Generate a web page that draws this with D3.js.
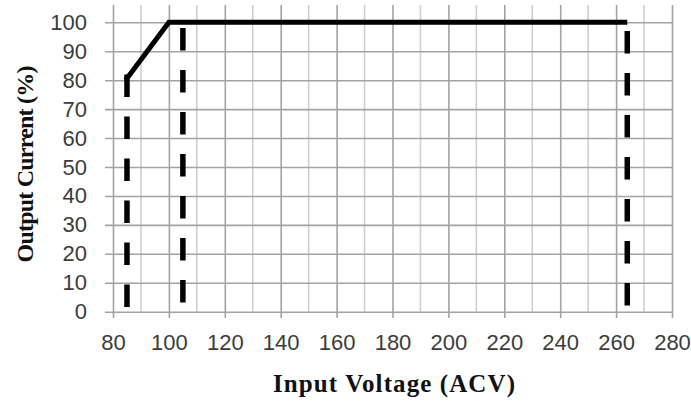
<!DOCTYPE html>
<html>
<head>
<meta charset="utf-8">
<script src="https://cdn.jsdelivr.net/npm/d3@7"></script>
<style>
  html, body { margin: 0; padding: 0; background: #fff; }
  svg { display: block; }
</style>
</head>
<body>
<svg id="chart" width="691" height="405"></svg>
<script>
// ---- data ----
const xTicks = [80, 100, 120, 140, 160, 180, 200, 220, 240, 260, 280];
const xMinorTicks = [90, 110, 130, 150, 170, 190, 210, 230, 250, 270];
const yTicks = [0, 10, 20, 30, 40, 50, 60, 70, 80, 90, 100];
const curveVoltage = [84.5, 100, 264];
const curveCurrent = [80, 100, 100];
const limitVoltage = [85, 105, 264];
const limitTop = [82, 100, 100];
const xTitle = "Input Voltage (ACV)";
const yTitle = "Output Current (%)";

// ---- layout ----
const svg = d3.select("#chart");
const x = d3.scaleLinear().domain([80, 280]).range([113, 672]);
const y = d3.scaleLinear().domain([0, 100]).range([311.7, 22.3]);
const gridTop = 5, majorBottom = 318, gridLeft = 105;

// minor vertical grid
svg.append("g").selectAll("line").data(xMinorTicks).join("line")
  .attr("x1", d => x(d)).attr("x2", d => x(d))
  .attr("y1", gridTop).attr("y2", y(0))
  .attr("stroke", "#cfcfcf").attr("stroke-width", 1.6);

// major vertical grid + labels via axis
const xAxis = d3.axisBottom(x).tickValues(xTicks)
  .tickSize(-(majorBottom - gridTop)).tickPadding(16).tickFormat(d3.format("d"));
const gx = svg.append("g").attr("transform", `translate(0,${majorBottom})`).call(xAxis);
gx.select(".domain").remove();
gx.selectAll(".tick line").attr("stroke", "#a3a3a3").attr("stroke-width", 1.6);
gx.selectAll(".tick text").attr("fill", "#3c3c3c")
  .style("font-family", "'Liberation Sans', Arial, sans-serif").style("font-size", "22px");

// horizontal grid + labels via axis
const yAxis = d3.axisLeft(y).tickValues(yTicks)
  .tickSize(-(x(280) - gridLeft)).tickPadding(18).tickFormat(d3.format("d"));
const gy = svg.append("g").attr("transform", `translate(${gridLeft},0)`).call(yAxis);
gy.select(".domain").remove();
gy.selectAll(".tick line").attr("stroke", "#a3a3a3").attr("stroke-width", 1.6);
gy.selectAll(".tick text").attr("fill", "#3c3c3c")
  .style("font-family", "'Liberation Sans', Arial, sans-serif").style("font-size", "22px");

// dashed limit lines
const dashOffsets = [0, 36.3, 33.3];
svg.append("g").selectAll("line").data(limitVoltage).join("line")
  .attr("x1", d => x(d)).attr("x2", d => x(d))
  .attr("y1", (d, i) => y(limitTop[i])).attr("y2", y(0))
  .attr("stroke", "#000").attr("stroke-width", 5.5)
  .attr("stroke-dasharray", "22.5,19.5")
  .attr("stroke-dashoffset", (d, i) => dashOffsets[i]);

// derating curve
const pts = curveVoltage.map((v, i) => [v, curveCurrent[i]]);
svg.append("path").datum(pts)
  .attr("d", d3.line().x(d => x(d[0])).y(d => y(d[1])))
  .attr("fill", "none").attr("stroke", "#000").attr("stroke-width", 5)
  .attr("stroke-linejoin", "miter");

// titles
svg.append("text").attr("x", 394).attr("y", 392).attr("text-anchor", "middle")
  .attr("textLength", 242).attr("lengthAdjust", "spacing")
  .style("font-family", "'Liberation Serif', 'Times New Roman', serif")
  .style("font-weight", "bold").style("font-size", "25px").attr("fill", "#111")
  .text(xTitle);

svg.append("text").attr("transform", "translate(33,164) rotate(-90)")
  .attr("text-anchor", "middle")
  .attr("textLength", 197).attr("lengthAdjust", "spacing")
  .style("font-family", "'Liberation Serif', 'Times New Roman', serif")
  .style("font-weight", "bold").style("font-size", "24px").attr("fill", "#111")
  .text(yTitle);
</script>
</body>
</html>
